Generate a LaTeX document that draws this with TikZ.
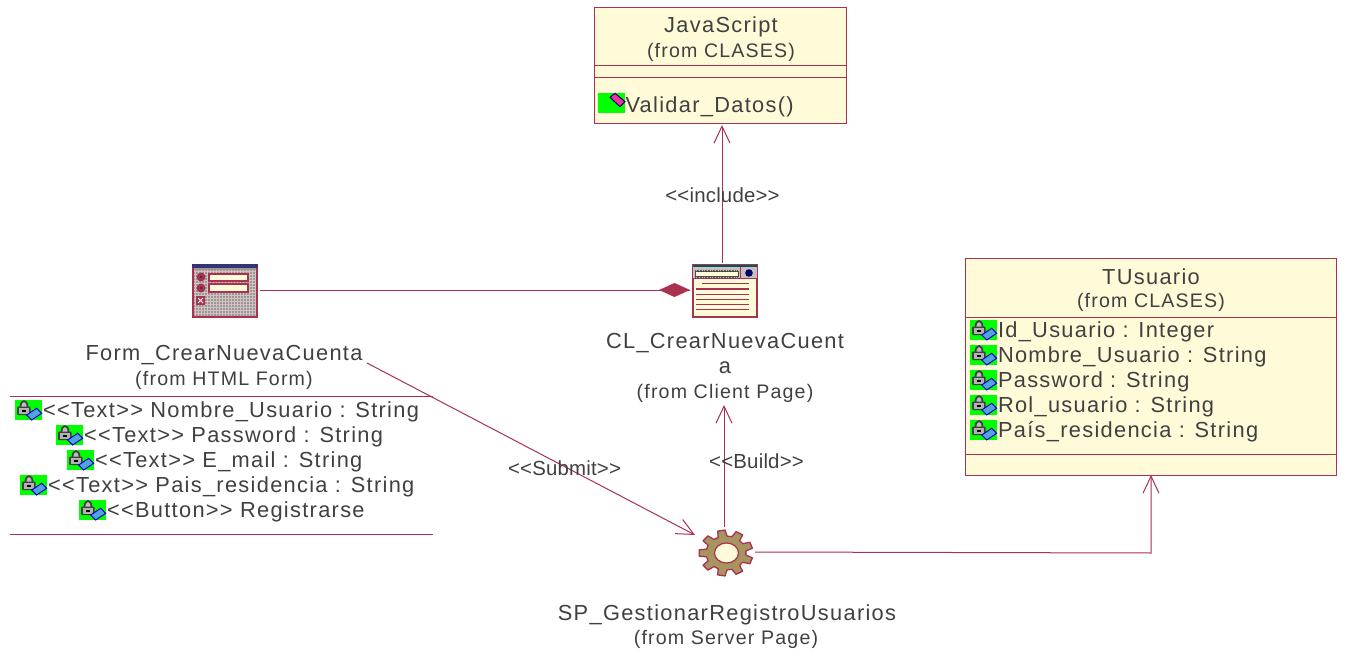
\documentclass[tikz,border=0pt]{standalone}
\usepackage{fontspec}
\setmainfont{Liberation Sans}[LetterSpace=6]
\newfontfamily\lblf{Liberation Sans}[LetterSpace=1]
\usetikzlibrary{arrows.meta,calc}
\definecolor{umlline}{HTML}{A8324F}
\definecolor{umlfill}{HTML}{FFFBD9}
\definecolor{umltext}{HTML}{404040}
\definecolor{formgray}{HTML}{A39494}
\definecolor{gearfill}{HTML}{A8945F}
\tikzset{
  every node/.style={inner sep=0pt,outer sep=0pt,text=umltext},
  umlbox/.style={draw=umlline,fill=umlfill,line width=1pt,anchor=north west},
  title/.style={font=\fontsize{21.8}{22}\selectfont,anchor=center},
  from/.style={font=\fontsize{19.6}{20}\selectfont,anchor=center},
  attr/.style={font=\fontsize{21.8}{22}\selectfont,anchor=west},
  clabel/.style={font=\lblf\fontsize{20.4}{20}\selectfont,anchor=center},
  conn/.style={draw=umlline,line width=1pt},
  open/.style={-{Straight Barb[length=17pt,width=16pt,line width=1pt]}},
  sep/.style={draw=umlline,line width=1pt},
  iconbox/.style={minimum width=66pt,minimum height=54pt,anchor=center},
  lockicon/.pic={
    \fill[green] (-13.5,-10) rectangle (13.5,10);
    \draw[black!75,line width=1.8pt,fill=lightgray] (-8,-3) .. controls (-8,-11) and (-1,-11) .. (-1,-3);
    \fill[black!75,rounded corners=1pt] (-11.5,-3.5) rectangle (2,5);
    \fill[gray!60] (-10,-2) rectangle (0.5,3.5);
    \fill[black] (-7,-0.5) rectangle (-3,1.5);
    \fill[cyan!70!blue!70,draw=blue!80!black,line width=1pt] (-1.8,5) -- (8.2,-1.7) -- (13.2,3.3) -- (3.2,10) -- cycle;
  },
  opicon/.pic={
    \fill[green] (-13.5,-10) rectangle (13.5,10);
    \fill[magenta!80,draw=black!60!blue,line width=1pt] (-1.5,-5.7) -- (3.5,-9.7) -- (13.5,-1.3) -- (8.5,3.7) -- cycle;
  }
}
\begin{document}
\begin{tikzpicture}[x=1pt,y=-1pt]
\useasboundingbox (0,0) rectangle (1346,652);
\fill[white] (0,0) rectangle (1346,652);

% JavaScript class
\node[umlbox,minimum width=252pt,minimum height=116pt] (js) at (594,8) {};
\draw[sep] (594,66) -- (846,66);
\draw[sep] (594,78) -- (846,78);
\node[title] (jst) at (721,27) {JavaScript};
\node[from] (jsf) at (721,52) {(from CLASES)};
\pic at (611.5,103) {opicon};
\node[attr] (jsm) at (625.5,107) {Validar\_Datos()};

% TUsuario class
\node[umlbox,minimum width=371pt,minimum height=216pt] (tu) at (965,259) {};
\draw[sep] (965,317) -- (1336,317);
\draw[sep] (965,454) -- (1336,454);
\node[title] (tut) at (1151,277) {TUsuario};
\node[from] (tuf) at (1151,302) {(from CLASES)};
\pic at (983.5,330) {lockicon};
\node[attr] (a1) at (998,332) {Id\_Usuario : Integer};
\pic at (983.5,355) {lockicon};
\node[attr] (a2) at (998,357) {Nombre\_Usuario : String};
\pic at (983.5,380) {lockicon};
\node[attr] (a3) at (998,382) {Password : String};
\pic at (983.5,405) {lockicon};
\node[attr] (a4) at (998,407) {Rol\_usuario : String};
\pic at (983.5,430) {lockicon};
\node[attr] (a5) at (998,432) {País\_residencia : String};

% Form icon
\node[iconbox] (form) at (225,291) {};
\begin{scope}[shift={(192,264)}]
  \fill[formgray,draw=umlline,line width=1.2pt] (1,3) rectangle (65,53);
  \draw[formgray!55!white,line width=0.5pt] (3,6) -- (3,52) (6,6) -- (6,52) (9,6) -- (9,52) (12,6) -- (12,52) (15,6) -- (15,52) (18,6) -- (18,52) (21,6) -- (21,52) (24,6) -- (24,52) (27,6) -- (27,52) (30,6) -- (30,52) (33,6) -- (33,52) (36,6) -- (36,52) (39,6) -- (39,52) (42,6) -- (42,52) (45,6) -- (45,52) (48,6) -- (48,52) (51,6) -- (51,52) (54,6) -- (54,52) (57,6) -- (57,52) (60,6) -- (60,52) (63,6) -- (63,52)
    (2,7) -- (64,7) (2,10) -- (64,10) (2,13) -- (64,13) (2,16) -- (64,16) (2,19) -- (64,19) (2,22) -- (64,22) (2,25) -- (64,25) (2,28) -- (64,28) (2,31) -- (64,31) (2,34) -- (64,34) (2,37) -- (64,37) (2,40) -- (64,40) (2,43) -- (64,43) (2,46) -- (64,46) (2,49) -- (64,49);
  \fill[black!30!blue!50!black!80] (0,0) rectangle (66,4);
  \fill[umlfill,draw=umlline,line width=1.2pt] (17,10) rectangle (56,17);
  \fill[umlfill,draw=umlline,line width=1.2pt] (17,20) rectangle (56,28);
  \fill[umlline] (9,13) circle (4.5); \fill[black!60!formgray] (9,13) circle (1.5);
  \fill[umlline] (9,24) circle (4.5); \fill[black!60!formgray] (9,24) circle (1.5);
  \fill[umlline] (4,32) rectangle (13,41);
  \draw[white,line width=0.8pt] (6,34) -- (11,39) (11,34) -- (6,39);
\end{scope}
\node[title] (formt) at (224,355) {Form\_CrearNuevaCuenta};
\node[from] (formf) at (224,380) {(from HTML Form)};
\draw[sep] (10,396) -- (433,396);
\draw[sep] (10,534) -- (433,534);
\pic at (28.5,410) {lockicon};
\node[attr] (f1) at (43,412) {<{}<Text>{}> Nombre\_Usuario : String};
\pic at (69.5,435) {lockicon};
\node[attr] (f2) at (84,437) {<{}<Text>{}> Password : String};
\pic at (80.5,460) {lockicon};
\node[attr] (f3) at (95,462) {<{}<Text>{}> E\_mail : String};
\pic at (33.5,485) {lockicon};
\node[attr] (f4) at (48,487) {<{}<Text>{}> Pais\_residencia : String};
\pic at (92.5,510) {lockicon};
\node[attr] (f5) at (107,512) {<{}<Button>{}> Registrarse};

% Client page icon
\node[iconbox] (cl) at (725,291) {};
\begin{scope}[shift={(692,264)}]
  \fill[umlfill,draw=umlline,line width=1.2pt] (1,1) rectangle (65,53);
  \fill[formgray!60] (1,2) rectangle (65,15);
  \fill[black!30!teal] (1,1) rectangle (65,3.5);
  \draw[black!40!formgray,line width=0.6pt,densely dotted] (3,6) -- (46,6) (3,13) -- (46,13);
  \fill[umlfill,draw=black!70,line width=0.6pt] (3,7.5) rectangle (46,12);
  \draw[umlline,line width=1pt] (48,3) -- (48,15) (1,15) -- (65,15);
  \fill[black!30!blue!60!black] (57,9) circle (3.8);
  \draw[umlline,line width=1pt] (10,20) -- (57,20) (4,25) -- (57,25) (4,30) -- (57,30) (4,35) -- (57,35) (4,40) -- (57,40) (4,45) -- (57,45);
\end{scope}
\node[title] (clt1) at (725,343) {CL\_CrearNuevaCuent};
\node[title] (clt2) at (725,368) {a};
\node[from] (clf) at (725,393) {(from Client Page)};

% Server page icon (gear)
\node[minimum width=56pt,minimum height=46pt,anchor=center] (sp) at (726,553) {};
\fill[gearfill,draw=umlline,line width=1.3pt,line join=round]
  (726+20*cos 87,553-17*sin 87)
  \foreach \a in {100,140,180,220,260,300,340,380,420} {
    -- ({726+27*cos(\a-8)},{553-23*sin(\a-8)})
    -- ({726+27*cos(\a+8)},{553-23*sin(\a+8)})
    -- ({726+20*cos(\a+13)},{553-17*sin(\a+13)})
    -- ({726+20*cos(\a+27)},{553-17*sin(\a+27)})
  } -- cycle;
\fill[umlfill,draw=umlline,line width=1.2pt] (726.5,553) ellipse (12 and 10);
\node[title] (spt) at (727,615) {SP\_GestionarRegistroUsuarios};
\node[from] (spf) at (726,639) {(from Server Page)};

% Connectors
\coordinate (formr) at (260,290);
\coordinate (clbody) at (690,290);
\draw[conn] (formr) -- (clbody);
\fill[umlline] (659,290) -- (674.5,283) -- (690,290) -- (674.5,297) -- cycle;

\coordinate (clt) at (722,263);
\coordinate (jsb) at (722,125);
\draw[conn,open] (clt) -- (jsb);
\node[clabel] (l1) at (722.5,195) {<{}<include>{}>};

\coordinate (ss) at (367,363);
\coordinate (sp1) at (695,535);
\draw[conn,open] (ss) -- (sp1);
\node[clabel] (l2) at (564.5,468) {<{}<Submit>{}>};

\coordinate (spn) at (724,527);
\coordinate (clb) at (724,405);
\draw[conn,open] (spn) -- (clb);
\node[clabel] (l3) at (756.5,461) {<{}<Build>{}>};

\coordinate (spr) at (755,552);
\coordinate (tub) at (1151,475);
\draw[conn,open] (spr) -- (1151,553) -- (tub);
\end{tikzpicture}
\end{document}
